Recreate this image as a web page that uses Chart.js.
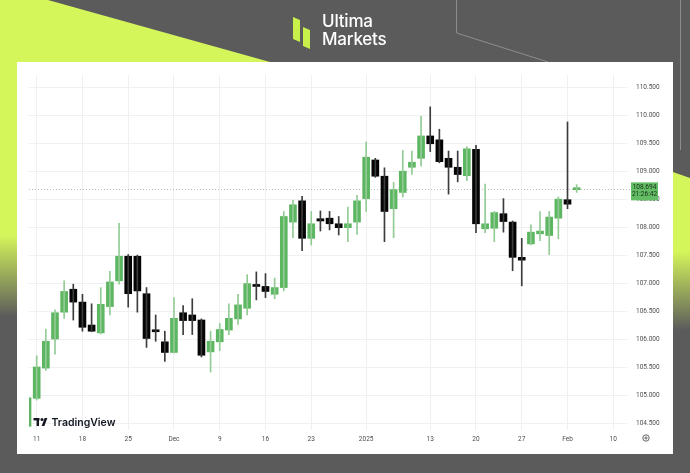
<!DOCTYPE html>
<html>
<head>
<meta charset="utf-8">
<script src="https://cdn.jsdelivr.net/npm/chart.js@4.4.1/dist/chart.umd.min.js"></script>
<style>
  html, body { margin: 0; padding: 0; width: 690px; height: 473px; overflow: hidden; background: #5b5b5b; }
  #stage { position: relative; width: 690px; height: 473px; overflow: hidden; }
  #bg { position: absolute; left: 0; top: 0; }
  #panel { position: absolute; left: 17px; top: 62px; width: 656px; height: 392px; background: #ffffff; }
  #chart { position: absolute; left: 0; top: 0; }
  .brand { position: absolute; left: 322px; color: #ffffff; font: 500 17px/17px Inter, Roboto, sans-serif; letter-spacing: -0.2px; }
</style>
</head>
<body>
<div id="stage">
  <canvas id="bg" width="690" height="473"></canvas>
  <div class="brand" style="top:13px">Ultima</div>
  <div class="brand" style="top:31px">Markets</div>
  <div id="panel"><canvas id="chart" width="656" height="392"></canvas></div>
</div>
<script>
// Trading days shown on the time scale (the last few are empty future slots)
const days = [
  '2024-11-08','2024-11-11','2024-11-12','2024-11-13','2024-11-14','2024-11-15',
  '2024-11-18','2024-11-19','2024-11-20','2024-11-21','2024-11-22',
  '2024-11-25','2024-11-26','2024-11-27','2024-11-28','2024-11-29',
  '2024-12-02','2024-12-03','2024-12-04','2024-12-05','2024-12-06',
  '2024-12-09','2024-12-10','2024-12-11','2024-12-12','2024-12-13',
  '2024-12-16','2024-12-17','2024-12-18','2024-12-19','2024-12-20',
  '2024-12-23','2024-12-24','2024-12-26','2024-12-27','2024-12-30','2024-12-31',
  '2025-01-02','2025-01-03',
  '2025-01-06','2025-01-07','2025-01-08','2025-01-09','2025-01-10',
  '2025-01-13','2025-01-14','2025-01-15','2025-01-16','2025-01-17',
  '2025-01-20','2025-01-21','2025-01-22','2025-01-23','2025-01-24',
  '2025-01-27','2025-01-28','2025-01-29','2025-01-30','2025-01-31',
  '2025-02-03','2025-02-04',
  '2025-02-05','2025-02-06','2025-02-07','2025-02-10','2025-02-11','2025-02-12'
];

// Daily OHLC
const open = [
  104.45, 104.95, 105.49, 106.01, 106.49, 106.90,
  106.67, 106.26, 106.12, 106.59, 107.05,
  107.49, 107.49, 106.82, 106.16, 105.96,
  105.77, 106.48, 106.44, 106.35, 105.78,
  105.96, 106.17, 106.37, 106.56, 106.97,
  106.95, 106.81, 106.93, 108.10, 108.48,
  107.81, 108.16, 108.17, 108.07, 108.00, 108.10,
  108.52, 109.21,
  108.92, 108.34, 108.63, 109.08, 109.24,
  109.64, 109.57, 109.24, 109.08, 108.93,
  109.40, 107.98, 107.99, 108.25, 108.10,
  107.47, 107.71, 107.89, 107.86, 108.17,
  108.50, 108.68
];
const high = [
  105.00, 105.71, 106.19, 106.53, 107.05, 106.99,
  106.81, 106.64, 106.93, 107.22, 108.08,
  107.52, 107.51, 106.93, 106.44, 106.15,
  106.75, 106.61, 106.73, 106.37, 106.15,
  106.29, 106.64, 106.81, 107.16, 107.21,
  107.18, 107.10, 108.29, 108.49, 108.56,
  108.29, 108.30, 108.29, 108.20, 108.37, 108.58,
  109.53, 109.24,
  109.07, 108.81, 109.38, 109.37, 109.99,
  110.16, 109.76, 109.37, 109.37, 109.45,
  109.47, 108.78, 108.29, 108.52, 108.12,
  107.81, 108.05, 108.29, 108.29, 108.55,
  109.89, 108.77
];
const low = [
  104.40, 104.92, 105.45, 105.74, 106.38, 106.35,
  106.15, 106.14, 106.10, 106.44, 106.99,
  106.58, 106.49, 105.86, 105.97, 105.61,
  105.76, 106.09, 106.09, 105.69, 105.42,
  105.80, 106.09, 106.27, 106.44, 106.71,
  106.75, 106.73, 106.87, 107.82, 107.59,
  107.69, 107.94, 107.96, 107.87, 107.75, 107.88,
  108.29, 108.90,
  107.75, 107.82, 108.55, 108.95, 109.10,
  109.36, 109.16, 108.60, 108.82, 108.84,
  107.91, 107.91, 107.75, 107.92, 107.23,
  106.96, 107.69, 107.77, 107.52, 107.80,
  108.34, 108.63
];
const close = [
  104.96, 105.51, 105.97, 106.48, 106.86, 106.67,
  106.22, 106.15, 106.63, 107.03, 107.49,
  106.82, 106.87, 106.02, 106.14, 105.77,
  106.38, 106.34, 106.34, 105.72, 105.97,
  106.18, 106.38, 106.62, 107.00, 106.95,
  106.86, 106.93, 108.20, 108.41, 107.81,
  108.07, 108.12, 108.07, 108.00, 108.07, 108.48,
  109.26, 108.92,
  108.29, 108.68, 109.01, 109.17, 109.64,
  109.50, 109.18, 109.08, 108.95, 109.41,
  108.07, 108.07, 108.27, 108.11, 107.47,
  107.42, 107.92, 107.94, 108.19, 108.51,
  108.42, 108.694
];

// Time-scale labels: [trading day, text]
const timeLabels = [
  ['2024-11-11', '11'], ['2024-11-18', '18'], ['2024-11-25', '25'],
  ['2024-12-02', 'Dec'], ['2024-12-09', '9'], ['2024-12-16', '16'],
  ['2024-12-23', '23'], ['2025-01-02', '2025'], ['2025-01-13', '13'],
  ['2025-01-20', '20'], ['2025-01-27', '27'], ['2025-02-03', 'Feb'],
  ['2025-02-10', '10']
];
// Price-scale labels
const priceTicks = [104.5, 105.0, 105.5, 106.0, 106.5, 107.0, 107.5, 108.0, 108.5, 109.0, 109.5, 110.0, 110.5];
const countdown = '21:26:42';

const lastPrice = close[close.length - 1];
const tickIndex = timeLabels.map(t => days.indexOf(t[0]));
const tickText = timeLabels.map(t => t[1]);

const UP = '#5db661', DOWN = '#050505';
const UP_WICK = '#93cb95', DOWN_WICK = '#3c3c3c';
const isUp = i => close[i] >= open[i];

/* ---------- backdrop ---------- */
(function drawBackdrop() {
  const c = document.getElementById('bg').getContext('2d');
  const LIME = '#d5f65b', GRAY = '#5b5b5b';
  c.fillStyle = GRAY; c.fillRect(0, 0, 690, 473);

  c.fillStyle = LIME;
  c.beginPath(); c.moveTo(0, 0); c.lineTo(48, 0); c.lineTo(270, 62); c.lineTo(0, 62); c.closePath(); c.fill();

  let g = c.createLinearGradient(0, 62, 0, 473);
  g.addColorStop(0, LIME); g.addColorStop(0.42, LIME); g.addColorStop(0.62, GRAY); g.addColorStop(1, GRAY);
  c.fillStyle = g; c.fillRect(0, 62, 17, 411);

  g = c.createLinearGradient(0, 172, 0, 330);
  g.addColorStop(0, LIME); g.addColorStop(0.5, LIME); g.addColorStop(1, GRAY);
  c.fillStyle = g;
  c.beginPath(); c.moveTo(673, 172); c.lineTo(690, 178); c.lineTo(690, 330); c.lineTo(673, 330); c.closePath(); c.fill();

  c.strokeStyle = '#8d8d8d'; c.lineWidth = 1;
  c.beginPath(); c.moveTo(456.5, 0); c.lineTo(456.5, 33); c.lineTo(548, 62); c.stroke();
  c.beginPath(); c.moveTo(680.5, 0); c.lineTo(680.5, 150); c.stroke();

  // brand mark
  c.fillStyle = '#c9ef4b';
  c.beginPath(); c.moveTo(293, 17); c.lineTo(300, 20); c.lineTo(300, 42); c.lineTo(293, 39); c.closePath(); c.fill();
  c.beginPath(); c.moveTo(303, 27); c.lineTo(310, 30); c.lineTo(310, 49); c.lineTo(303, 46); c.closePath(); c.fill();
})();

/* ---------- chart decorations ---------- */
const overlay = {
  id: 'overlay',
  beforeDatasetsDraw(chart) {
    const { ctx, chartArea: a, scales: { y } } = chart;
    const py = Math.round(y.getPixelForValue(lastPrice)) + 0.5;
    ctx.save();
    ctx.strokeStyle = '#bdbdbd'; ctx.lineWidth = 1; ctx.setLineDash([1, 2]);
    ctx.beginPath(); ctx.moveTo(a.left, py); ctx.lineTo(a.right + 4, py); ctx.stroke();
    ctx.restore();
  },
  afterDraw(chart) {
    const { ctx, scales: { y } } = chart;
    const py = y.getPixelForValue(lastPrice);
    ctx.save();
    // last price tag
    ctx.fillStyle = '#62bd64';
    ctx.fillRect(614, py - 6.5, 27, 18);
    ctx.fillStyle = '#1c2e1c';
    ctx.font = '6.5px Roboto, sans-serif';
    ctx.textAlign = 'center'; ctx.textBaseline = 'middle';
    ctx.fillText(lastPrice.toFixed(3), 627.5, py - 1);
    ctx.fillText(countdown, 627.5, py + 5.5);

    // TradingView watermark
    ctx.fillStyle = '#131722';
    ctx.fillRect(16.5, 356, 6, 2.4);
    ctx.fillRect(19.6, 356, 2.4, 8);
    ctx.beginPath(); ctx.arc(25, 357.4, 1.5, 0, Math.PI * 2); ctx.fill();
    ctx.beginPath(); ctx.moveTo(27.6, 356); ctx.lineTo(30.4, 356); ctx.lineTo(27.4, 364); ctx.lineTo(24.6, 364); ctx.closePath(); ctx.fill();
    ctx.font = '600 10.5px Inter, Roboto, sans-serif';
    ctx.textAlign = 'left'; ctx.textBaseline = 'alphabetic';
    ctx.fillText('TradingView', 34.5, 364);

    // settings gear
    ctx.strokeStyle = '#555'; ctx.lineWidth = 0.9;
    ctx.beginPath(); ctx.arc(629, 376, 3.2, 0, Math.PI * 2); ctx.stroke();
    ctx.beginPath(); ctx.arc(629, 376, 1.1, 0, Math.PI * 2); ctx.stroke();
    ctx.restore();
  }
};

const wickData = open.map((_, i) => ({ x: i, y: [low[i], high[i]] }));
const bodyData = open.map((o, i) => ({ x: i, y: [o, close[i]] }));

new Chart(document.getElementById('chart'), {
  type: 'bar',
  data: {
    datasets: [
      {
        label: 'wick',
        data: wickData,
        grouped: false,
        barThickness: 1,
        clip: 0,
        backgroundColor: ctx => isUp(ctx.dataIndex) ? UP_WICK : DOWN_WICK
      },
      {
        label: 'body',
        data: bodyData,
        grouped: false,
        barThickness: 7,
        minBarLength: 2,
        clip: 0,
        backgroundColor: ctx => isUp(ctx.dataIndex) ? UP : DOWN
      }
    ]
  },
  options: {
    responsive: false,
    animation: false,
    events: [],
    layout: { padding: { left: 12, top: 2, right: 0, bottom: 0 } },
    plugins: { legend: { display: false }, tooltip: { enabled: false } },
    scales: {
      x: {
        type: 'linear',
        bounds: 'data',
        min: 0.16,
        max: 65.5,
        offset: false,
        grid: { color: '#eef0f3', drawTicks: false, offset: false },
        border: { display: false },
        afterBuildTicks: ax => { ax.ticks = tickIndex.map(v => ({ value: v })); },
        afterFit: s => { s.height = 24; },
        ticks: {
          autoSkip: false, maxRotation: 0, padding: 5,
          color: '#4d4d4d', font: { size: 6.5, family: 'Roboto, sans-serif' },
          callback: (v, i) => tickText[i]
        }
      },
      y: {
        type: 'linear',
        position: 'right',
        bounds: 'data',
        min: 104.384,
        max: 110.731,
        grid: { color: '#eef0f3', drawTicks: false },
        border: { display: false },
        afterBuildTicks: ax => { ax.ticks = priceTicks.map(v => ({ value: v })); },
        afterFit: s => { s.width = 46; },
        ticks: {
          autoSkip: false, padding: 9,
          color: '#4d4d4d', font: { size: 6.5, family: 'Roboto, sans-serif' },
          callback: v => Number(v).toFixed(3)
        }
      }
    }
  },
  plugins: [overlay]
});
</script>
</body>
</html>
